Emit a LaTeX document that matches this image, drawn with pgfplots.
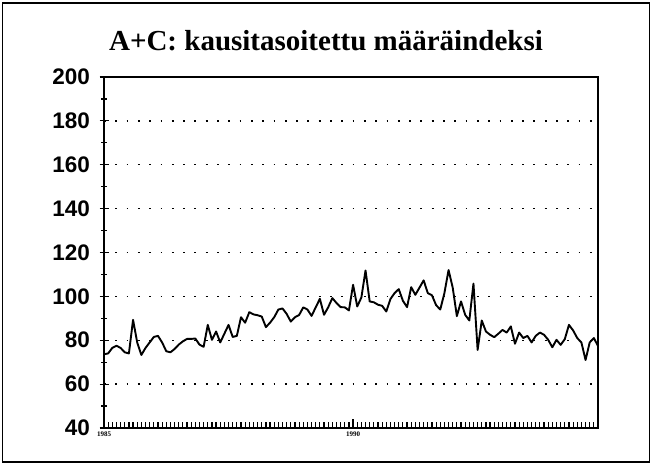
\documentclass[border=0pt]{standalone}
\usepackage{fontspec}
\setmainfont{Liberation Serif}
\setsansfont{Liberation Sans}
\usepackage{pgfplots}
\pgfplotsset{compat=1.18}
\pgfplotstableread{
m v
0 73.6
1 74
2 76.5
3 77.5
4 76.5
5 74.5
6 74
7 89.3
8 79
9 73.3
10 76.5
11 79
12 81.5
13 82
14 79
15 75
16 74.5
17 76
18 78
19 79.5
20 80.6
21 80.6
22 80.8
23 78
24 77
25 87
26 80.2
27 84
28 79
29 83
30 87
31 81.5
32 82
33 90.5
34 88
35 92.8
36 91.8
37 91.4
38 90.8
39 86
40 88
41 90.5
42 94
43 94.5
44 92
45 88.5
46 90.5
47 91.5
48 95
49 94
50 91.1
51 95
52 98.9
53 91.6
54 95
55 99.2
56 97
57 95.1
58 95
59 93.6
60 105.3
61 95.4
62 99.5
63 111.8
64 97.7
65 97.3
66 96.2
67 95.7
68 93.1
69 98.8
70 101.5
71 103.3
72 98
73 95.1
74 104.2
75 100.7
76 104
77 107.3
78 101.5
79 100.5
80 96
81 94
82 101.5
83 112
84 104
85 91
86 97.7
87 91.6
88 89
89 105.8
90 75.6
91 89
92 84
93 82.5
94 81.4
95 83
96 84.7
97 83.5
98 86.3
99 78.4
100 83.5
101 81
102 82
103 79
104 82
105 83.5
106 82.5
107 80.2
108 76.8
109 80.2
110 77.9
111 80.5
112 87
113 84.5
114 81
115 79
116 71
117 79
118 81
119 77.4
}\datatable
\begin{document}
\begin{tikzpicture}[x=1pt,y=1pt]
\useasboundingbox (0,0) rectangle (652,465);
\draw[line width=1.4pt] (2.5,3) rectangle (649.5,462);
\node[font=\bfseries\fontsize{29}{29}\selectfont] at (326,424) {A+C: kausitasoitettu määräindeksi};
\begin{axis}[
  at={(104pt,37pt)}, anchor=south west,
  scale only axis, width=494pt, height=351pt,
  xmin=0, xmax=119, ymin=40, ymax=200,
  ytick={40,60,...,200},
  minor y tick num=1,
  xtick={0,60}, xticklabels={1985,1990},
  minor xtick={1,...,119},
  xtick pos=bottom, ytick pos=left,
  xtick align=inside, ytick align=center,
  major tick length=9pt, minor tick length=5.5pt,
  ymajorgrids,
  major grid style={line width=1.3pt, dash pattern=on 1.8pt off 9.5pt, black},
  axis line style={line width=1.9pt},
  every tick/.style={black, line width=1.2pt},
  /pgf/number format/assume math mode=true,
  yticklabel style={font=\sffamily\bfseries\fontsize{22.5}{22.5}\selectfont, xshift=-6pt},
  xticklabel style={font=\bfseries\fontsize{7}{7}\selectfont},
]
\addplot[black, line width=1.9pt, no marks, sharp plot, line join=round] table[x=m, y=v] {\datatable};
\end{axis}
\end{tikzpicture}
\end{document}
